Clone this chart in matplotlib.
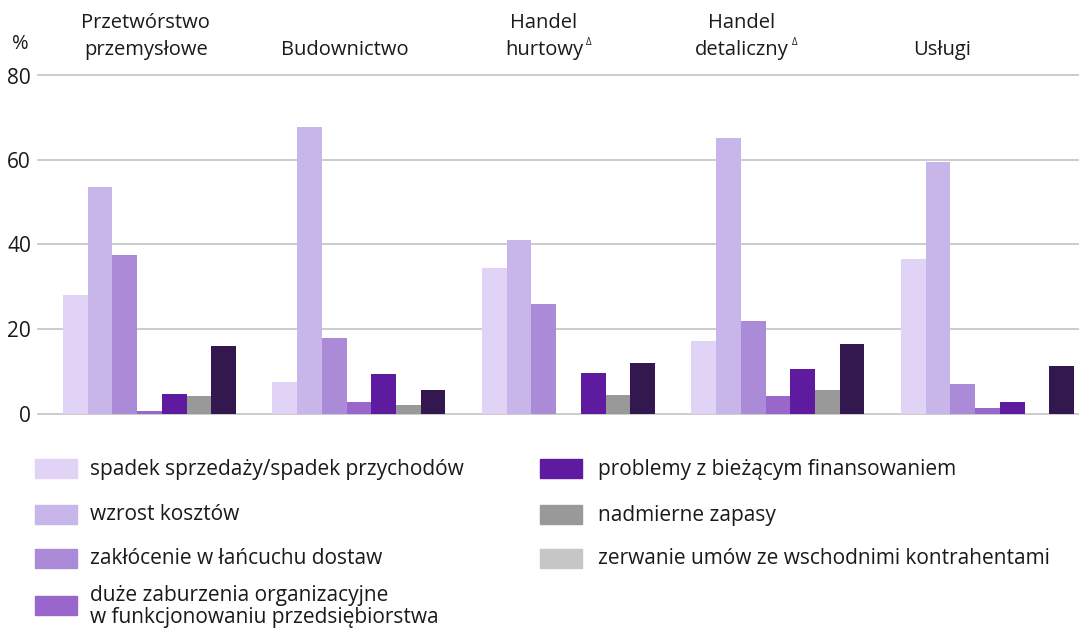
import numpy as np
import matplotlib
matplotlib.use("Agg")
import matplotlib.pyplot as plt
from matplotlib.patches import Rectangle

plt.rcParams['font.family'] = ['Open Sans', 'DejaVu Sans']

# Data
categories = ["Przetwórstwo\nprzemysłowe", "Budownictwo", "Handel\nhurtowy", "Handel\ndetaliczny", "Usługi"]
delta_mark = [False, False, True, True, False]

spadek = [28.0, 7.4, 34.4, 17.2, 36.6]
wzrost = [53.7, 67.8, 41.0, 65.2, 59.5]
zaklocenie = [37.4, 17.9, 25.9, 21.9, 7.1]
zaburzenia = [0.7, 2.7, 0.0, 4.1, 1.2]
finansowanie = [4.6, 9.3, 9.7, 10.6, 2.8]
zapasy = [4.2, 1.9, 4.3, 5.6, 0.0]
zerwanie = [16.0, 5.6, 12.0, 16.4, 11.2]

series = [spadek, wzrost, zaklocenie, zaburzenia, finansowanie, zapasy, zerwanie]
bar_colors = ["#e0d3f5", "#c8b5ea", "#ab8ad8", "#9966cc", "#5f1ba0", "#999999", "#33184f"]

legend_labels = [
    "spadek sprzedaży/spadek przychodów",
    "wzrost kosztów",
    "zakłócenie w łańcuchu dostaw",
    "duże zaburzenia organizacyjne\nw funkcjonowaniu przedsiębiorstwa",
    "problemy z bieżącym finansowaniem",
    "nadmierne zapasy",
    "zerwanie umów ze wschodnimi kontrahentami",
]
legend_colors = ["#e0d3f5", "#c8b5ea", "#ab8ad8", "#9966cc", "#5f1ba0", "#999999", "#c6c6c6"]

W, H = 1079, 628
fig = plt.figure(figsize=(W / 100, H / 100), dpi=100)
ax = fig.add_axes([38 / W, (H - 413.5) / H, 1041 / W, 338 / H])

x = np.arange(len(categories))
bw = 0.118
n = len(series)
for i, (vals, col) in enumerate(zip(series, bar_colors)):
    offs = (i - (n - 1) / 2) * bw
    ax.bar(x + offs, vals, width=bw, color=col, zorder=3, linewidth=0)

ax.set_ylim(0, 80)
ax.set_xlim(-0.532, 4.437)
ax.set_yticks([0, 20, 40, 60, 80])
ax.grid(axis="y", color="#c8c8c8", linewidth=1.3, zorder=0)
for gl in ax.get_ygridlines():
    gl.set_clip_on(False)
ax.set_xticks([])
for s in ax.spines.values():
    s.set_visible(False)
ax.tick_params(axis="y", length=0, pad=5, labelsize=15, labelcolor="#1a1a1a")

# category labels above the plot
label_x = [-0.017, 0.933, 1.883, 2.828, 3.783]
cat_texts = []
for lx, cat in zip(label_x, categories):
    t = ax.text(lx, 1.047, cat, transform=ax.get_xaxis_transform(), ha="center", va="bottom",
                fontsize=14.5, color="#1a1a1a", linespacing=1.45)
    cat_texts.append(t)

fig.canvas.draw()
renderer = fig.canvas.get_renderer()
for t, d in zip(cat_texts, delta_mark):
    if d:
        bb = t.get_window_extent(renderer)
        fig.text((bb.x1 + 3) / W, (bb.y0 + 12) / H, "Δ", fontsize=7, color="#1a1a1a",
                 ha="left", va="bottom")

fig.text(12 / W, 1 - 44 / H, "%", fontsize=14.5, color="#1a1a1a", va="center", ha="left")

# legend, drawn by hand
rows_y = [468, 514, 558, 605]
for k, (lab, col) in enumerate(zip(legend_labels, legend_colors)):
    if k < 4:
        px, tx, py = 35, 90, rows_y[k]
    else:
        px, tx, py = 540, 598, rows_y[k - 4]
    fig.patches.append(Rectangle((px / W, 1 - (py + 9.5) / H), 42 / W, 19 / H,
                                 transform=fig.transFigure, color=col, figure=fig))
    ty = py + 1 if "\n" not in lab else py + 1.5
    fig.text(tx / W, 1 - ty / H, lab, fontsize=15, color="#1a1a1a", va="center", ha="left",
             linespacing=1.05)

fig.savefig("out.png", dpi=100)
